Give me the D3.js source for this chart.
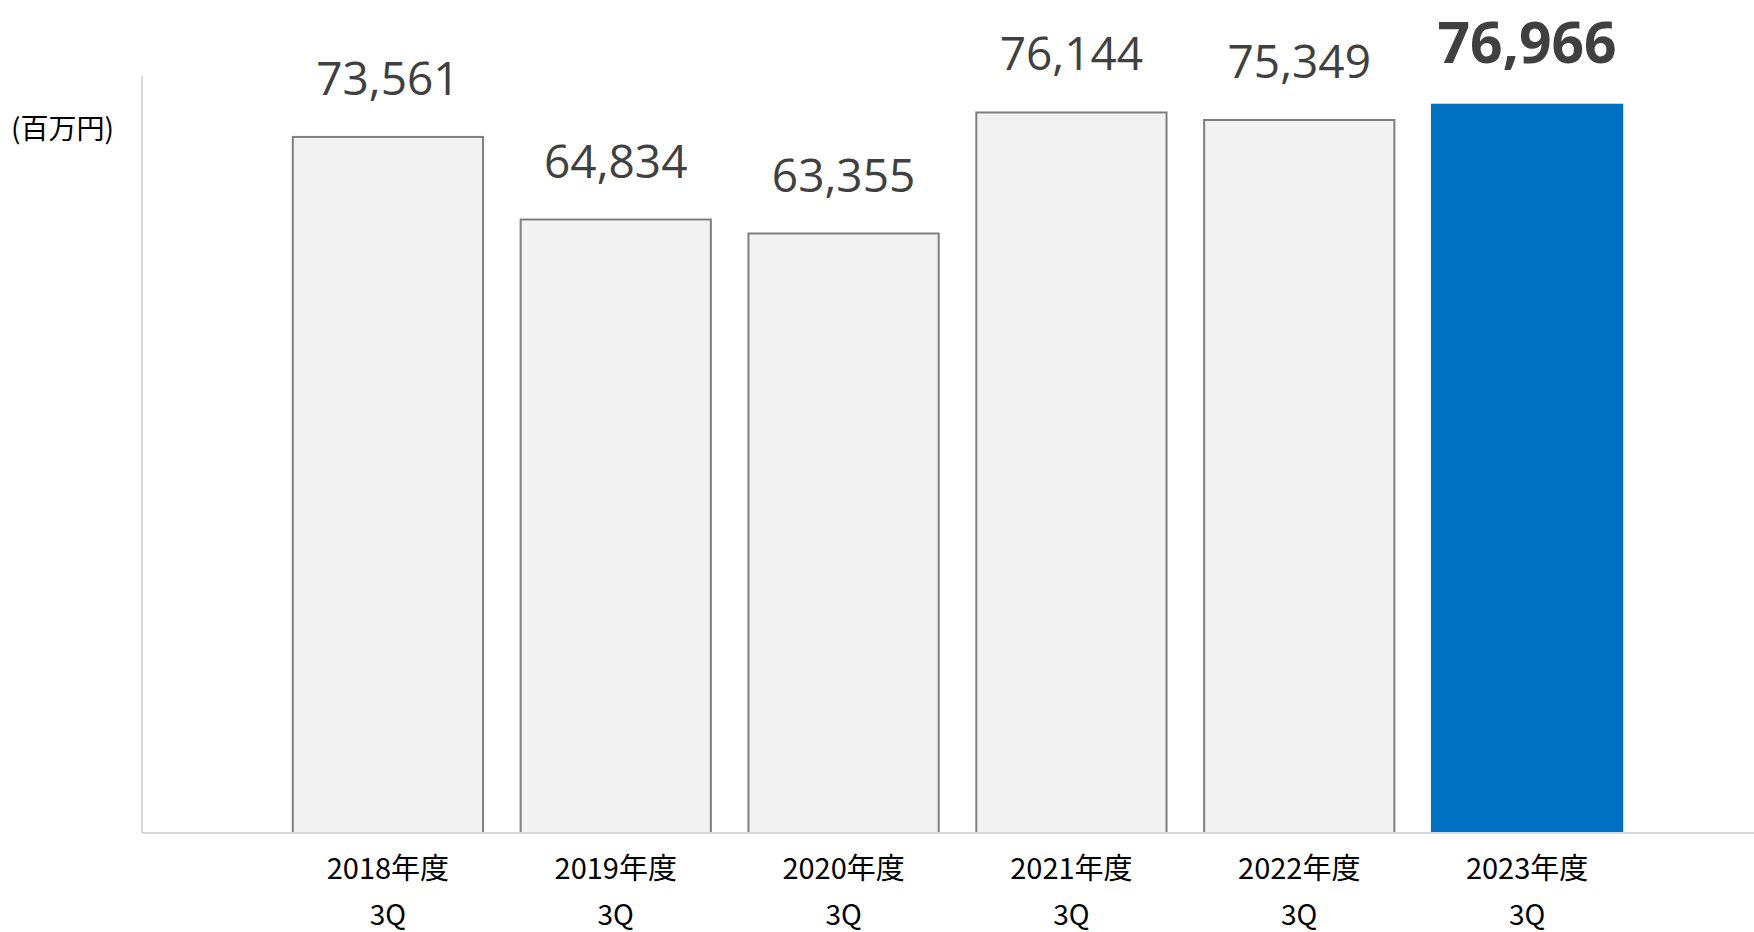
<!DOCTYPE html>
<html>
<head>
<meta charset="utf-8">
<script src="https://cdn.jsdelivr.net/npm/d3@7"></script>
<style>
  body { margin: 0; background: #fff; }
  svg { display: block; }
</style>
</head>
<body>
<svg id="chart" width="1754" height="932"></svg>
<script>
// data
const years = ["2018年度", "2019年度", "2020年度", "2021年度", "2022年度", "2023年度"];
const quarters = ["3Q", "3Q", "3Q", "3Q", "3Q", "3Q"];
const values = [73561, 64834, 63355, 76144, 75349, 76966];
const highlight = [false, false, false, false, false, true];
const unitLabel = "(百万円)";

let width = 1754;
let axisX = 142;
let axisY = 833;
let topY = 76;

let svg = d3.select('#chart');

// scales
let xScale = d3.scaleBand()
  .domain(years)
  .range([274, 1641])
  .paddingInner(0.165)
  .paddingOuter(0.0825);

let yScale = d3.scaleLinear()
  .domain([0, 80000])
  .range([axisY, topY]);

// axis lines
svg.append('line')
  .attr('x1', axisX).attr('x2', axisX)
  .attr('y1', topY).attr('y2', axisY)
  .attr('stroke', '#d9d9d9').attr('stroke-width', 2);

// bars
svg.append('g').selectAll('rect')
  .data(values).enter().append('rect')
  .attr('x', (d, i) => xScale(years[i]))
  .attr('y', d => yScale(d))
  .attr('width', xScale.bandwidth())
  .attr('height', d => axisY - yScale(d))
  .attr('fill', (d, i) => highlight[i] ? '#0070c0' : '#f2f2f2')
  .attr('stroke', (d, i) => highlight[i] ? '#0070c0' : '#7f7f7f')
  .attr('stroke-width', 2);

svg.append('line')
  .attr('x1', axisX).attr('x2', width)
  .attr('y1', axisY).attr('y2', axisY)
  .attr('stroke', '#d9d9d9').attr('stroke-width', 2);

// value labels
let fmt = d3.format(',');
svg.append('g').selectAll('text')
  .data(values).enter().append('text')
  .attr('x', (d, i) => xScale(years[i]) + xScale.bandwidth() / 2)
  .attr('y', (d, i) => yScale(d) - (highlight[i] ? 42 : 42))
  .attr('text-anchor', 'middle')
  .attr('font-family', '"Open Sans", sans-serif')
  .attr('font-size', (d, i) => highlight[i] ? 57 : 46)
  .attr('font-weight', (d, i) => highlight[i] ? 700 : 400)
  .attr('fill', '#404040')
  .text(d => fmt(d));

// category labels (two lines)
let xAxis = svg.append('g');
xAxis.selectAll('text.year')
  .data(years).enter().append('text')
  .attr('class', 'year')
  .attr('x', d => xScale(d) + xScale.bandwidth() / 2)
  .attr('y', 879)
  .attr('text-anchor', 'middle')
  .attr('font-family', '"Noto Sans CJK JP", sans-serif')
  .attr('font-size', 29)
  .attr('fill', '#000')
  .text(d => d);

xAxis.selectAll('text.q')
  .data(quarters).enter().append('text')
  .attr('class', 'q')
  .attr('x', (d, i) => xScale(years[i]) + xScale.bandwidth() / 2)
  .attr('y', 925)
  .attr('text-anchor', 'middle')
  .attr('font-family', '"Noto Sans CJK JP", sans-serif')
  .attr('font-size', 28)
  .attr('fill', '#000')
  .text(d => d);

// unit label
svg.append('text')
  .attr('x', 11)
  .attr('y', 139)
  .attr('font-family', '"Noto Sans CJK JP", sans-serif')
  .attr('font-size', 28)
  .attr('fill', '#000')
  .text(unitLabel);
</script>
</body>
</html>
